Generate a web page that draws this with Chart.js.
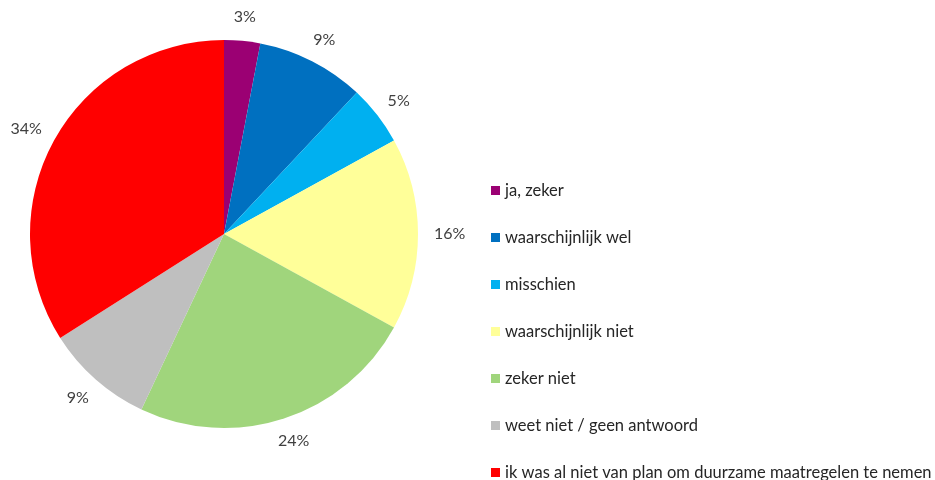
<!DOCTYPE html>
<html>
<head>
<meta charset="utf-8">
<script src="https://cdn.jsdelivr.net/npm/chart.js@4/dist/chart.umd.min.js"></script>
<style>
  html, body { margin: 0; padding: 0; background: #fff; }
  #wrap { position: relative; width: 935px; height: 480px; }
</style>
</head>
<body>
<div id="wrap"><canvas id="grafico" width="935" height="480"></canvas></div>
<script>
const categorieen = ['ja, zeker', 'waarschijnlijk wel', 'misschien', 'waarschijnlijk niet',
  'zeker niet', 'weet niet / geen antwoord', 'ik was al niet van plan om duurzame maatregelen te nemen'];
const percentages = [3, 9, 5, 16, 24, 9, 34];
const kleuren = ['#9B0073', '#0070C0', '#00B0F0', '#FFFF99', '#A0D57C', '#BFBFBF', '#FF0000'];

const FONT = 'Lato, "Open Sans", sans-serif';

// percentages buiten de taartpunten (zoals Excel: tekstvak op vaste afstand van de rand)
const labelsBuiten = {
  id: 'labelsBuiten',
  afterDatasetsDraw(chart) {
    const ctx = chart.ctx;
    const meta = chart.getDatasetMeta(0);
    ctx.save();
    ctx.font = '16px ' + FONT;
    ctx.fillStyle = '#404040';
    ctx.textAlign = 'center';
    ctx.textBaseline = 'middle';
    meta.data.forEach((arc, i) => {
      const p = arc.getProps(['x', 'y', 'startAngle', 'endAngle', 'outerRadius'], true);
      const mid = (p.startAngle + p.endAngle) / 2;
      const txt = percentages[i] + '%';
      const w = ctx.measureText(txt).width;
      const r = p.outerRadius + 12;
      const cx = p.x + Math.cos(mid) * r + Math.cos(mid) * (w / 2 + 4);
      const cy = p.y + Math.sin(mid) * r + Math.sin(mid) * 12;
      ctx.fillText(txt, cx, cy);
    });
    ctx.restore();
  }
};

// legenda rechts
const legenda = {
  id: 'legenda',
  afterDraw(chart) {
    const ctx = chart.ctx;
    ctx.save();
    ctx.font = '16.5px ' + FONT;
    ctx.textBaseline = 'middle';
    chart.data.labels.forEach((lab, i) => {
      const y = 191 + i * 47;
      ctx.fillStyle = chart.data.datasets[0].backgroundColor[i];
      ctx.fillRect(491, y - 5, 9, 9);
      ctx.fillStyle = '#262626';
      ctx.fillText(lab, 505, y);
    });
    ctx.restore();
  }
};

new Chart(document.getElementById('grafico').getContext('2d'), {
  type: 'pie',
  data: {
    labels: categorieen,
    datasets: [{
      data: percentages,
      backgroundColor: kleuren,
      borderWidth: 0
    }]
  },
  options: {
    responsive: false,
    animation: false,
    layout: { padding: { left: 30, right: 517, top: 40, bottom: 52 } },
    plugins: { legend: { display: false }, tooltip: { enabled: false } }
  },
  plugins: [labelsBuiten, legenda]
});
</script>
</body>
</html>
